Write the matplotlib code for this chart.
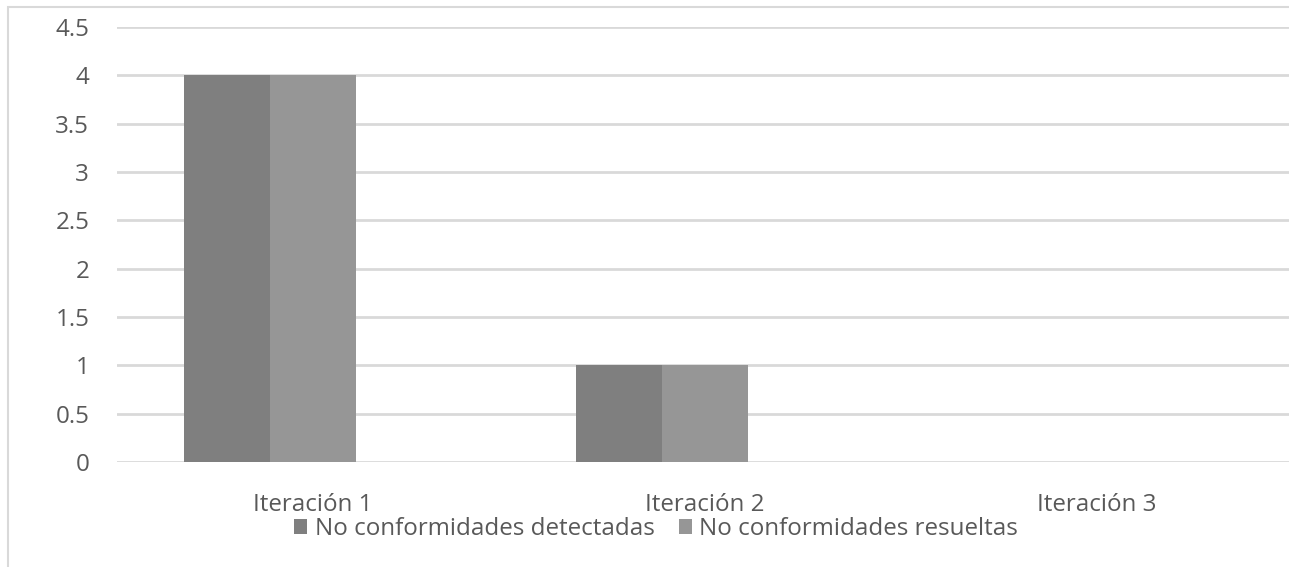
import numpy as np
import matplotlib.pyplot as plt
from matplotlib.patches import Rectangle

categorias = ['Iteración 1', 'Iteración 2', 'Iteración 3']
detectadas = [4, 1, 0]
resueltas = [4, 1, 0]
series = ['No conformidades detectadas', 'No conformidades resueltas']

plt.rcParams['font.family'] = ['Open Sans', 'DejaVu Sans']
gris_texto = '#595959'
color1 = '#7f7f7f'
color2 = '#969696'
fs = 17.4

fig = plt.figure(figsize=(12.89, 5.67), dpi=100)
# marco del grafico
fig.patches.append(Rectangle((8 / 1289, -0.1), 1.2, 1.1 - 7 / 567, transform=fig.transFigure,
                             fill=False, edgecolor='#d9d9d9', linewidth=1.5))
ax = fig.add_axes([117 / 1289, 1 - 462 / 567, 1 - 117 / 1289, (462 - 27) / 567])

x = np.arange(len(categorias))
w = 0.22
ax.bar(x - w / 2, detectadas, w, color=color1, label=series[0])
ax.bar(x + w / 2, resueltas, w, color=color2, label=series[1])

ax.set_xlim(-0.39, 2.6)
ax.set_ylim(0, 4.5)
ax.set_yticks(np.arange(0, 4.51, 0.5))
ax.set_yticklabels(['0', '0.5', '1', '1.5', '2', '2.5', '3', '3.5', '4', '4.5'])
ax.yaxis.grid(True, color='#d9d9d9', linewidth=2)
ax.set_axisbelow(True)
ax.set_xticks(x + 0.11)
ax.set_xticklabels(categorias)
ax.tick_params(axis='x', length=0, pad=22, labelsize=fs, labelcolor=gris_texto)
ax.tick_params(axis='y', length=0, pad=20, labelsize=fs, labelcolor=gris_texto)
for s in ax.spines.values():
    s.set_visible(False)

fig.legend(loc='center', bbox_to_anchor=(656 / 1289, 1 - 529 / 567), ncol=2, frameon=False,
           fontsize=fs, labelcolor=gris_texto, handlelength=0.55, handleheight=0.55,
           handletextpad=0.3, columnspacing=1.0)

plt.savefig('out.png', dpi=100)
